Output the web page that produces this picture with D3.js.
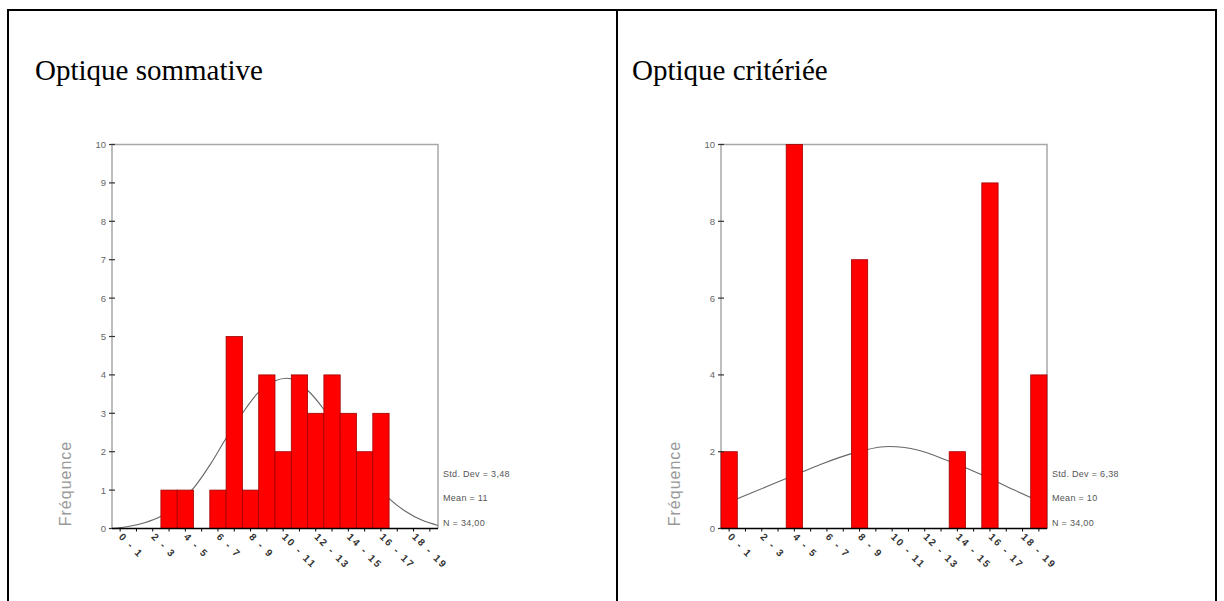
<!DOCTYPE html>
<html>
<head>
<meta charset="utf-8">
<script src="https://cdn.jsdelivr.net/npm/d3@7"></script>
<style>
  body { margin: 0; background: #fff; }
</style>
</head>
<body>
<div id="page"></div>
<script>
// DONNÉES
const binLabels = ['0 - 1', '2 - 3', '4 - 5', '6 - 7', '8 - 9', '10 - 11', '12 - 13', '14 - 15', '16 - 17', '18 - 19'];
const sommativeFreq = [0, 0, 0, 1, 1, 0, 1, 5, 1, 4, 2, 4, 3, 4, 3, 2, 3, 0, 0, 0];
const critereeFreq = [2, 0, 0, 0, 10, 0, 0, 0, 7, 0, 0, 0, 0, 0, 2, 0, 9, 0, 0, 4];
// courbe normale (position sur l'axe, fréquence)
const sommativeCurve = [[0, 0], [1, 0.05], [2, 0.15], [3, 0.32], [4, 0.62], [5, 1.05], [6, 1.65], [7, 2.35], [8, 3.0], [9, 3.55], [10, 3.85], [11, 3.9], [12, 3.6], [13, 3.1], [14, 2.45], [15, 1.8], [16, 1.22], [17, 0.78], [18, 0.45], [19, 0.22], [20, 0.08]];
const critereeCurve = [[0, 0.6], [2, 0.95], [4, 1.3], [6, 1.65], [8, 1.95], [10, 2.13], [12, 2.05], [14, 1.75], [16, 1.4], [18, 1.0], [20, 0.62]];
const sommativeTicks = [0, 1, 2, 3, 4, 5, 6, 7, 8, 9, 10];
const critereeTicks = [0, 2, 4, 6, 8, 10];
const sommativeStats = ['Std. Dev = 3,48', 'Mean = 11', 'N = 34,00'];
const critereeStats = ['Std. Dev = 6,38', 'Mean = 10', 'N = 34,00'];

const W = 1224, H = 601;
const svg = d3.select('#page').append('svg').attr('width', W).attr('height', H);

//CADRE DU TABLEAU
svg.append('path')
    .attr('d', `M8,601 V10 H1216 V601 M617,10 V601`)
    .attr('fill', 'none')
    .attr('stroke', '#000')
    .attr('stroke-width', 2);

//TITRES
[['Optique sommative', 35], ['Optique critériée', 632]].forEach(([t, x]) => {
    svg.append('text')
        .attr('x', x).attr('y', 80)
        .attr('font-family', '"Liberation Serif", "Times New Roman", serif')
        .attr('font-size', 29)
        .attr('fill', '#000')
        .text(t);
});

drawHisto(112, sommativeFreq, sommativeCurve, sommativeTicks, sommativeStats);
drawHisto(721, critereeFreq, critereeCurve, critereeTicks, critereeStats);

function drawHisto(left, freq, curve, ticks, stats) {
    const top = 144.5, plotW = 326, plotH = 384;
    const g = svg.append('g').attr('transform', `translate(${left},${top})`);

    const x = d3.scaleLinear().domain([0, freq.length]).range([0, plotW]);
    const y = d3.scaleLinear().domain([0, 10]).range([plotH, 0]);

    //cadre gris
    g.append('path')
        .attr('d', `M0,${plotH} V0 H${plotW} V${plotH}`)
        .attr('fill', 'none')
        .attr('stroke', '#a8a8a8')
        .attr('stroke-width', 1.5);

    //courbe normale (sous les barres)
    g.append('path')
        .datum(curve)
        .attr('d', d3.line().x(d => x(d[0])).y(d => y(d[1])).curve(d3.curveCatmullRom))
        .attr('fill', 'none')
        .attr('stroke', '#666')
        .attr('stroke-width', 1.1);

    //barres
    g.selectAll('rect.bar')
        .data(freq.map((v, i) => ({ i, v })).filter(d => d.v > 0))
        .enter()
        .append('rect')
        .attr('class', 'bar')
        .attr('x', d => x(d.i))
        .attr('width', d => x(d.i + 1) - x(d.i))
        .attr('y', d => y(d.v))
        .attr('height', d => y(0) - y(d.v))
        .attr('fill', '#ff0000')
        .attr('stroke', '#a00000')
        .attr('stroke-width', 0.8);

    //axe Y
    g.selectAll('line.ytick')
        .data(ticks)
        .enter()
        .append('line')
        .attr('x1', -3).attr('x2', 3)
        .attr('y1', d => y(d)).attr('y2', d => y(d))
        .attr('stroke', '#333')
        .attr('stroke-width', 1.2);
    g.selectAll('text.ylab')
        .data(ticks)
        .enter()
        .append('text')
        .attr('x', -6)
        .attr('y', d => y(d) + 3.5)
        .attr('text-anchor', 'end')
        .attr('font-family', '"Liberation Sans", Arial, sans-serif')
        .attr('font-size', 9.5)
        .attr('fill', '#666')
        .text(d => d);

    g.append('text')
        .attr('transform', `translate(-41,${plotH - 45}) rotate(-90)`)
        .attr('text-anchor', 'middle')
        .attr('font-family', '"Liberation Sans", Arial, sans-serif')
        .attr('font-size', 16)
        .attr('letter-spacing', 1)
        .attr('fill', '#999')
        .text('Fréquence');

    //axe X
    g.append('line')
        .attr('x1', 0).attr('x2', plotW)
        .attr('y1', plotH).attr('y2', plotH)
        .attr('stroke', '#000')
        .attr('stroke-width', 1.3);
    g.selectAll('line.xtick')
        .data(d3.range(freq.length))
        .enter()
        .append('line')
        .attr('x1', d => x(d + 0.5)).attr('x2', d => x(d + 0.5))
        .attr('y1', plotH).attr('y2', plotH + 3)
        .attr('stroke', '#000')
        .attr('stroke-width', 1);
    g.selectAll('text.xlab')
        .data(binLabels)
        .enter()
        .append('text')
        .attr('transform', (d, i) => `translate(${x(i * 2 + 0.5) - 2},${plotH + 9}) rotate(45)`)
        .attr('font-family', '"Liberation Sans", Arial, sans-serif')
        .attr('font-size', 10)
        .attr('font-weight', 'bold')
        .attr('letter-spacing', 2)
        .attr('fill', '#333')
        .text(d => d);

    //statistiques
    g.selectAll('text.stat')
        .data(stats)
        .enter()
        .append('text')
        .attr('x', plotW + 5)
        .attr('y', (d, i) => 332 + i * 24.5)
        .attr('font-family', '"Liberation Sans", Arial, sans-serif')
        .attr('font-size', 9)
        .attr('letter-spacing', 0.3)
        .attr('fill', '#555')
        .text(d => d);
}
</script>
</body>
</html>
